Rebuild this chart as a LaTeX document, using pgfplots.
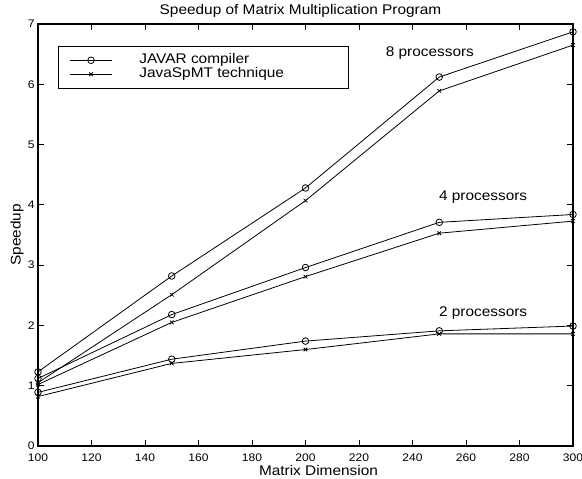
\documentclass[border=0pt]{standalone}
\usepackage{fontspec}
\setmainfont{Liberation Sans}[FakeStretch=1.1]
\usepackage{pgfplots}
\pgfplotsset{compat=1.18}

% Speedup measurements, one table per processor count
\pgfplotstableread{
n    javar  spmt
100  1.23   1.05
150  2.82   2.51
200  4.28   4.07
250  6.12   5.89
300  6.87   6.65
}\eightproc
\pgfplotstableread{
n    javar  spmt
100  1.12   1.02
150  2.18   2.05
200  2.96   2.81
250  3.71   3.53
300  3.84   3.73
}\fourproc
\pgfplotstableread{
n    javar  spmt
100  0.89   0.82
150  1.44   1.37
200  1.74   1.60
250  1.91   1.86
300  1.99   1.86
}\twoproc

\begin{document}
\begin{tikzpicture}
\path[use as bounding box] (-38bp,-33bp) rectangle (544bp,446bp);
\begin{axis}[
  at={(0,0)}, anchor=south west,
  scale only axis, width=535bp, height=422bp,
  xmin=100, xmax=300, ymin=0, ymax=7,
  xtick={100,120,...,300}, ytick={0,1,...,7},
  tick align=inside, major tick length=6bp,
  axis line style={line width=1.2bp},
  every tick/.style={black, line width=0.8bp},
  /pgf/number format/assume math mode=true,
  tick label style={font=\fontsize{11bp}{13bp}\selectfont},
  xticklabel style={anchor=base, yshift=-15bp},
  xlabel={Matrix Dimension},
  xlabel style={font=\fontsize{14bp}{16bp}\selectfont, at={(0.5,0)}, anchor=base, yshift=-29bp, xshift=13bp},
  ylabel={Speedup},
  ylabel style={font=\fontsize{14bp}{16bp}\selectfont, at={(-0.0393,0.5)}, anchor=center},
  clip=false,
  legend image code/.code={\draw[mark repeat=2, mark phase=2, #1] plot coordinates {(0bp,0bp) (21bp,0bp) (42bp,0bp)};},
  legend style={
    at={(0.0374,0.9486)}, anchor=north west,
    draw=black, line width=1.2bp,
    inner xsep=11bp, inner ysep=7bp,
    font=\fontsize{14bp}{16bp}\selectfont,
    nodes={inner sep=0pt, text height=10bp, text depth=4bp},
    /tikz/every odd column/.append style={column sep=27bp},
  },
  legend cell align=left,
]
\addplot[black, line width=0.8bp, mark=o, mark size=3.3bp] table[x=n, y=javar] {\eightproc};
\addplot[black, line width=0.8bp, mark=x, mark size=2.6bp] table[x=n, y=spmt] {\eightproc};
\addplot[black, line width=0.8bp, mark=o, mark size=3.3bp, forget plot] table[x=n, y=javar] {\fourproc};
\addplot[black, line width=0.8bp, mark=x, mark size=2.6bp, forget plot] table[x=n, y=spmt] {\fourproc};
\addplot[black, line width=0.8bp, mark=o, mark size=3.3bp, forget plot] table[x=n, y=javar] {\twoproc};
\addplot[black, line width=0.8bp, mark=x, mark size=2.6bp, forget plot] table[x=n, y=spmt] {\twoproc};
\legend{\makebox[198bp][l]{JAVAR compiler}, \makebox[198bp][l]{JavaSpMT technique}}
\node[font=\fontsize{14bp}{16bp}\selectfont, anchor=base] at (rel axis cs:0.5,1) [xshift=-5bp, yshift=9bp] {Speedup of Matrix Multiplication Program};
\node[font=\fontsize{14bp}{16bp}\selectfont] at (axis cs:246.5,6.52) {8 processors};
\node[font=\fontsize{14bp}{16bp}\selectfont] at (axis cs:266.4,4.13) {4 processors};
\node[font=\fontsize{14bp}{16bp}\selectfont] at (axis cs:266.4,2.21) {2 processors};
\end{axis}
\end{tikzpicture}
\end{document}
